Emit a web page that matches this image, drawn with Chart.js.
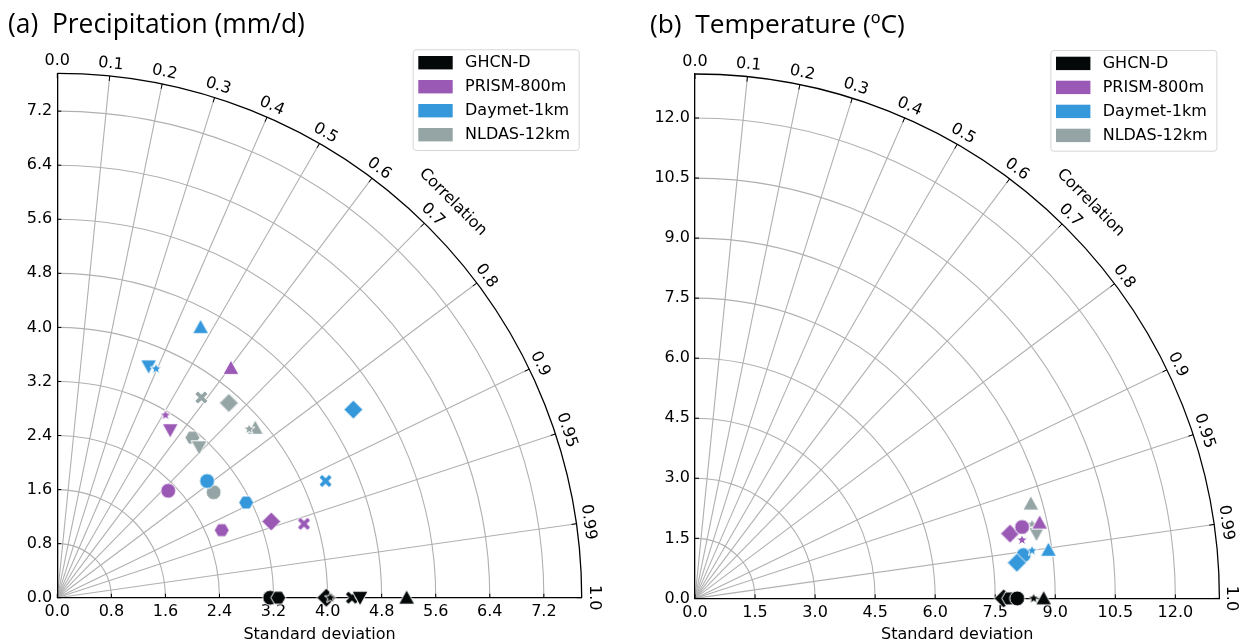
<!DOCTYPE html>
<html><head><meta charset="utf-8">
<script src="https://cdn.jsdelivr.net/npm/chart.js@4.4.1/dist/chart.umd.min.js"></script>
<style>
html,body{margin:0;padding:0;background:#fff;}
#wrap{position:relative;width:1243px;height:644px;overflow:hidden;background:#fff;}
canvas{position:absolute;top:0;}
#c1{left:0;} #c2{left:640px;}
</style></head><body>
<div id="wrap"><canvas id="c1" width="640" height="644"></canvas><canvas id="c2" width="603" height="644"></canvas></div>
<script>
// ---------- shared ----------
const seriesNames  = ['GHCN-D', 'PRISM-800m', 'Daymet-1km', 'NLDAS-12km'];
const seriesColors = ['#040809', '#9b59b6', '#3498db', '#95a5a6'];
const corrTicks  = [0.0, 0.1, 0.2, 0.3, 0.4, 0.5, 0.6, 0.7, 0.8, 0.9, 0.95, 0.99, 1.0];
const corrLabels = ['0.0','0.1','0.2','0.3','0.4','0.5','0.6','0.7','0.8','0.9','0.95','0.99','1.0'];

// ---------- (a) Precipitation (mm/d) ----------
const precipTitle = '(a)  Precipitation (mm/d)';
const precipSdTicks = [0.0, 0.8, 1.6, 2.4, 3.2, 4.0, 4.8, 5.6, 6.4, 7.2];
const precipSdMax = 7.76;
const precipMarkers = ['circle', 'hexagon', 'diamond', 'xfill', 'triUp', 'triDown', 'star'];
const precipGhcnSd     = [3.15, 3.27, 3.98, 4.36, 5.17, 4.48, 4.04];
const precipGhcnCorr   = [1.0, 1.0, 1.0, 1.0, 1.0, 1.0, 1.0];
const precipPrismSd    = [2.28, 2.63, 3.36, 3.81, 4.26, 2.99, 3.14];
const precipPrismCorr  = [0.720, 0.925, 0.942, 0.958, 0.603, 0.559, 0.510];
const precipDaymetSd   = [2.81, 3.13, 5.19, 4.33, 4.53, 3.68, 3.69];
const precipDaymetCorr = [0.789, 0.893, 0.844, 0.917, 0.468, 0.367, 0.396];
const precipNldasSd    = [2.79, 3.10, 3.84, 3.65, 3.86, 3.06, 3.78];
const precipNldasCorr  = [0.829, 0.645, 0.661, 0.584, 0.759, 0.686, 0.751];

// ---------- (b) Temperature (ºC) ----------
const tempTitle = '(b)  Temperature (ºC)';
const tempSdTicks = [0.0, 1.5, 3.0, 4.5, 6.0, 7.5, 9.0, 10.5, 12.0];
const tempSdMax = 13.1;
const tempGhcnMarkers   = ['diamond', 'hexagon', 'circle', 'star', 'triUp'];
const tempGhcnSd        = [7.71, 7.85, 8.05, 8.46, 8.71];
const tempGhcnCorr      = [1.0, 1.0, 1.0, 1.0, 1.0];
const tempPrismMarkers  = ['diamond', 'circle', 'star', 'triUp'];
const tempPrismSd       = [8.035, 8.364, 8.299, 8.815];
const tempPrismCorr     = [0.9795, 0.977, 0.9844, 0.9767];
const tempDaymetMarkers = ['circle', 'diamond', 'star', 'triUp'];
const tempDaymetSd      = [8.281, 8.089, 8.504, 8.913];
const tempDaymetCorr    = [0.9914, 0.9939, 0.9901, 0.9907];
const tempNldasMarkers  = ['star', 'triDown', 'triUp'];
const tempNldasSd       = [8.621, 8.681, 8.718];
const tempNldasCorr     = [0.9767, 0.9826, 0.9624];

// ---------- marker images ----------
const markerSizes = {circle: 15, hexagon: 15, diamond: 19, xfill: 15, triUp: 16, triDown: 16, star: 12};
function markerCanvas(shape, color) {
  const size = markerSizes[shape];
  const s = Math.ceil(size + 4);
  const c = document.createElement('canvas');
  c.width = s; c.height = s;
  const g = c.getContext('2d');
  g.translate(s / 2, s / 2);
  const r = size / 2;
  g.beginPath();
  if (shape === 'circle') {
    g.arc(0, 0, r, 0, Math.PI * 2);
  } else if (shape === 'hexagon') {
    for (let i = 0; i < 6; i++) { const a = i * Math.PI / 3; g.lineTo(r * Math.cos(a), r * Math.sin(a)); }
  } else if (shape === 'diamond') {
    g.moveTo(0, -r); g.lineTo(r, 0); g.lineTo(0, r); g.lineTo(-r, 0);
  } else if (shape === 'triUp') {
    g.moveTo(0, -r); g.lineTo(r, r * 0.8); g.lineTo(-r, r * 0.8);
  } else if (shape === 'triDown') {
    g.moveTo(0, r); g.lineTo(r, -r * 0.8); g.lineTo(-r, -r * 0.8);
  } else if (shape === 'star') {
    for (let i = 0; i < 10; i++) {
      const rr = i % 2 === 0 ? r : r * 0.42;
      const a = -Math.PI / 2 + i * Math.PI / 5;
      g.lineTo(rr * Math.cos(a), rr * Math.sin(a));
    }
  } else if (shape === 'xfill') {
    const w = r * 0.3, L = r * 0.95;
    const pts = [[-w,-L],[w,-L],[w,-w],[L,-w],[L,w],[w,w],[w,L],[-w,L],[-w,w],[-L,w],[-L,-w],[-w,-w]];
    const ca = Math.cos(Math.PI / 4), sa = Math.sin(Math.PI / 4);
    pts.forEach(p => g.lineTo(p[0] * ca - p[1] * sa, p[0] * sa + p[1] * ca));
  }
  g.closePath();
  g.fillStyle = color; g.fill();
  g.strokeStyle = '#ffffff'; g.lineWidth = 1; g.stroke();
  return c;
}

function buildDataset(idx, sd, corr, shapes, order) {
  const color = seriesColors[idx];
  return {
    label: seriesNames[idx],
    data: sd.map((s, i) => ({x: s * corr[i], y: s * Math.sqrt(Math.max(0, 1 - corr[i] * corr[i]))})),
    pointStyle: shapes.map(sh => markerCanvas(sh, color)),
    pointRadius: 8,
    pointHoverRadius: 8,
    backgroundColor: color,
    borderColor: color,
    showLine: false,
    clip: false,
    order: order
  };
}

// ---------- Taylor plugin ----------
const tickFont = '16px "DejaVu Sans"';
const taylorPlugin = {
  id: 'taylor',
  beforeDraw(chart, args, o) {
    const ctx = chart.ctx, x = chart.scales.x, y = chart.scales.y;
    const ox = x.getPixelForValue(0), oy = y.getPixelForValue(0);
    const R = x.getPixelForValue(o.max) - ox;
    ctx.save();
    ctx.strokeStyle = '#b0b0b0'; ctx.lineWidth = 1.1;
    o.sdTicks.forEach(v => {
      if (v <= 0) return;
      const r = x.getPixelForValue(v) - ox;
      ctx.beginPath(); ctx.arc(ox, oy, r, -Math.PI / 2, 0); ctx.stroke();
    });
    corrTicks.forEach(c => {
      if (c <= 0 || c >= 1) return;
      const t = Math.acos(c);
      ctx.beginPath(); ctx.moveTo(ox, oy); ctx.lineTo(ox + R * Math.cos(t), oy - R * Math.sin(t)); ctx.stroke();
    });
    ctx.restore();
  },
  beforeDatasetsDraw(chart, args, o) {
    const ctx = chart.ctx, x = chart.scales.x, y = chart.scales.y;
    const ox = x.getPixelForValue(0), oy = y.getPixelForValue(0);
    ctx.save();
    ctx.strokeStyle = '#000'; ctx.lineWidth = 1;
    o.sdTicks.forEach(v => {
      const px = x.getPixelForValue(v), py = y.getPixelForValue(v);
      ctx.beginPath(); ctx.moveTo(px, oy); ctx.lineTo(px, oy - 4); ctx.stroke();
      ctx.beginPath(); ctx.moveTo(ox, py); ctx.lineTo(ox + 4, py); ctx.stroke();
    });
    ctx.restore();
  },
  afterDraw(chart, args, o) {
    const ctx = chart.ctx, x = chart.scales.x, y = chart.scales.y;
    const ox = x.getPixelForValue(0), oy = y.getPixelForValue(0);
    const R = x.getPixelForValue(o.max) - ox;
    ctx.save();
    // outer arc
    ctx.strokeStyle = '#000'; ctx.lineWidth = 1.3;
    ctx.beginPath(); ctx.arc(ox, oy, R, -Math.PI / 2, 0); ctx.stroke();
    ctx.lineWidth = 1;
    corrTicks.forEach(c => {
      const t = Math.acos(c);
      ctx.beginPath();
      ctx.moveTo(ox + R * Math.cos(t), oy - R * Math.sin(t));
      ctx.lineTo(ox + (R - 5) * Math.cos(t), oy - (R - 5) * Math.sin(t));
      ctx.stroke();
    });
    // correlation labels
    ctx.font = tickFont; ctx.fillStyle = '#000'; ctx.textAlign = 'center'; ctx.textBaseline = 'middle';
    corrTicks.forEach((c, i) => {
      const t = Math.acos(c);
      ctx.save();
      ctx.translate(ox + (R + 12) * Math.cos(t), oy - (R + 12) * Math.sin(t));
      ctx.rotate(Math.PI / 2 - t);
      ctx.fillText(corrLabels[i], 0, 0);
      ctx.restore();
    });
    ctx.save();
    const tc = Math.PI / 4;
    ctx.translate(ox + (R + 35) * Math.cos(tc), oy - (R + 35) * Math.sin(tc));
    ctx.rotate(Math.PI / 2 - tc);
    ctx.fillText('Correlation', 0, 0);
    ctx.restore();
    // legend
    const lx = ox + 355.4, ly = chart.chartArea.top - 24, lw = 166, lh = 100.7;
    ctx.beginPath();
    if (ctx.roundRect) ctx.roundRect(lx + 0.5, ly + 0.5, lw, lh, 3); else ctx.rect(lx + 0.5, ly + 0.5, lw, lh);
    ctx.fillStyle = 'rgba(255,255,255,0.9)'; ctx.fill();
    ctx.strokeStyle = '#d6d6d6'; ctx.lineWidth = 1; ctx.stroke();
    ctx.textAlign = 'left'; ctx.textBaseline = 'middle'; ctx.font = tickFont;
    seriesNames.forEach((n, i) => {
      const cy = ly + 13.4 + i * 24;
      ctx.fillStyle = seriesColors[i];
      ctx.fillRect(lx + 5.6, cy - 6.7, 34.4, 13.4);
      ctx.fillStyle = '#000';
      ctx.fillText(n, lx + 52.3, cy + 0.5);
    });
    // title
    let fs = 26;
    ctx.font = fs + 'px "Open Sans"';
    const w = ctx.measureText(o.title).width;
    fs = fs * o.titleWidth / w;
    ctx.font = fs + 'px "Open Sans"';
    ctx.fillStyle = '#000'; ctx.textBaseline = 'alphabetic';
    ctx.fillText(o.title, o.titleX, 33);
    ctx.restore();
  }
};

function makeOptions(cfg) {
  const tf = {family: 'DejaVu Sans', size: 16};
  return {
    responsive: false, animation: false, events: [],
    layout: {padding: {left: 0, top: cfg.top, right: cfg.right, bottom: 0}},
    scales: {
      x: {
        type: 'linear', min: 0, max: cfg.max,
        afterFit: s => { s.height = cfg.xh; },
        afterBuildTicks: s => { s.ticks = cfg.ticks.map(v => ({value: v})); },
        grid: {display: false, drawTicks: false},
        border: {display: true, color: '#000', width: 1.3},
        ticks: {color: '#000', font: tf, padding: 5, maxRotation: 0, autoSkip: false, callback: v => Number(v).toFixed(1)},
        title: {display: true, text: 'Standard deviation', color: '#000', font: tf, padding: {top: 0, bottom: 0}}
      },
      y: {
        type: 'linear', min: 0, max: cfg.max,
        afterFit: s => { s.width = cfg.yw; },
        afterBuildTicks: s => { s.ticks = cfg.ticks.map(v => ({value: v})); },
        grid: {display: false, drawTicks: false},
        border: {display: true, color: '#000', width: 1.3},
        ticks: {color: '#000', font: tf, padding: 5, autoSkip: false, callback: v => Number(v).toFixed(1)}
      }
    },
    plugins: {
      legend: {display: false},
      tooltip: {enabled: false},
      taylor: {max: cfg.max, sdTicks: cfg.ticks, title: cfg.title, titleX: cfg.titleX, titleWidth: cfg.titleWidth}
    }
  };
}

new Chart(document.getElementById('c1'), {
  type: 'scatter',
  data: {datasets: [
    buildDataset(0, precipGhcnSd, precipGhcnCorr, precipMarkers, 0),
    buildDataset(2, precipDaymetSd, precipDaymetCorr, precipMarkers, 1),
    buildDataset(1, precipPrismSd, precipPrismCorr, precipMarkers, 2),
    buildDataset(3, precipNldasSd, precipNldasCorr, precipMarkers, 3)
  ]},
  options: makeOptions({top: 73.3, right: 58.3, xh: 46.3, yw: 57.3, max: precipSdMax, ticks: precipSdTicks,
                        title: precipTitle, titleX: 8, titleWidth: 297}),
  plugins: [taylorPlugin]
});

new Chart(document.getElementById('c2'), {
  type: 'scatter',
  data: {datasets: [
    buildDataset(0, tempGhcnSd, tempGhcnCorr, tempGhcnMarkers, 0),
    buildDataset(2, tempDaymetSd, tempDaymetCorr, tempDaymetMarkers, 1),
    buildDataset(1, tempPrismSd, tempPrismCorr, tempPrismMarkers, 2),
    buildDataset(3, tempNldasSd, tempNldasCorr, tempNldasMarkers, 3)
  ]},
  options: makeOptions({top: 74, right: 23.6, xh: 45.6, yw: 55, max: tempSdMax, ticks: tempSdTicks,
                        title: tempTitle, titleX: 10, titleWidth: 255}),
  plugins: [taylorPlugin]
});
</script>
</body></html>
